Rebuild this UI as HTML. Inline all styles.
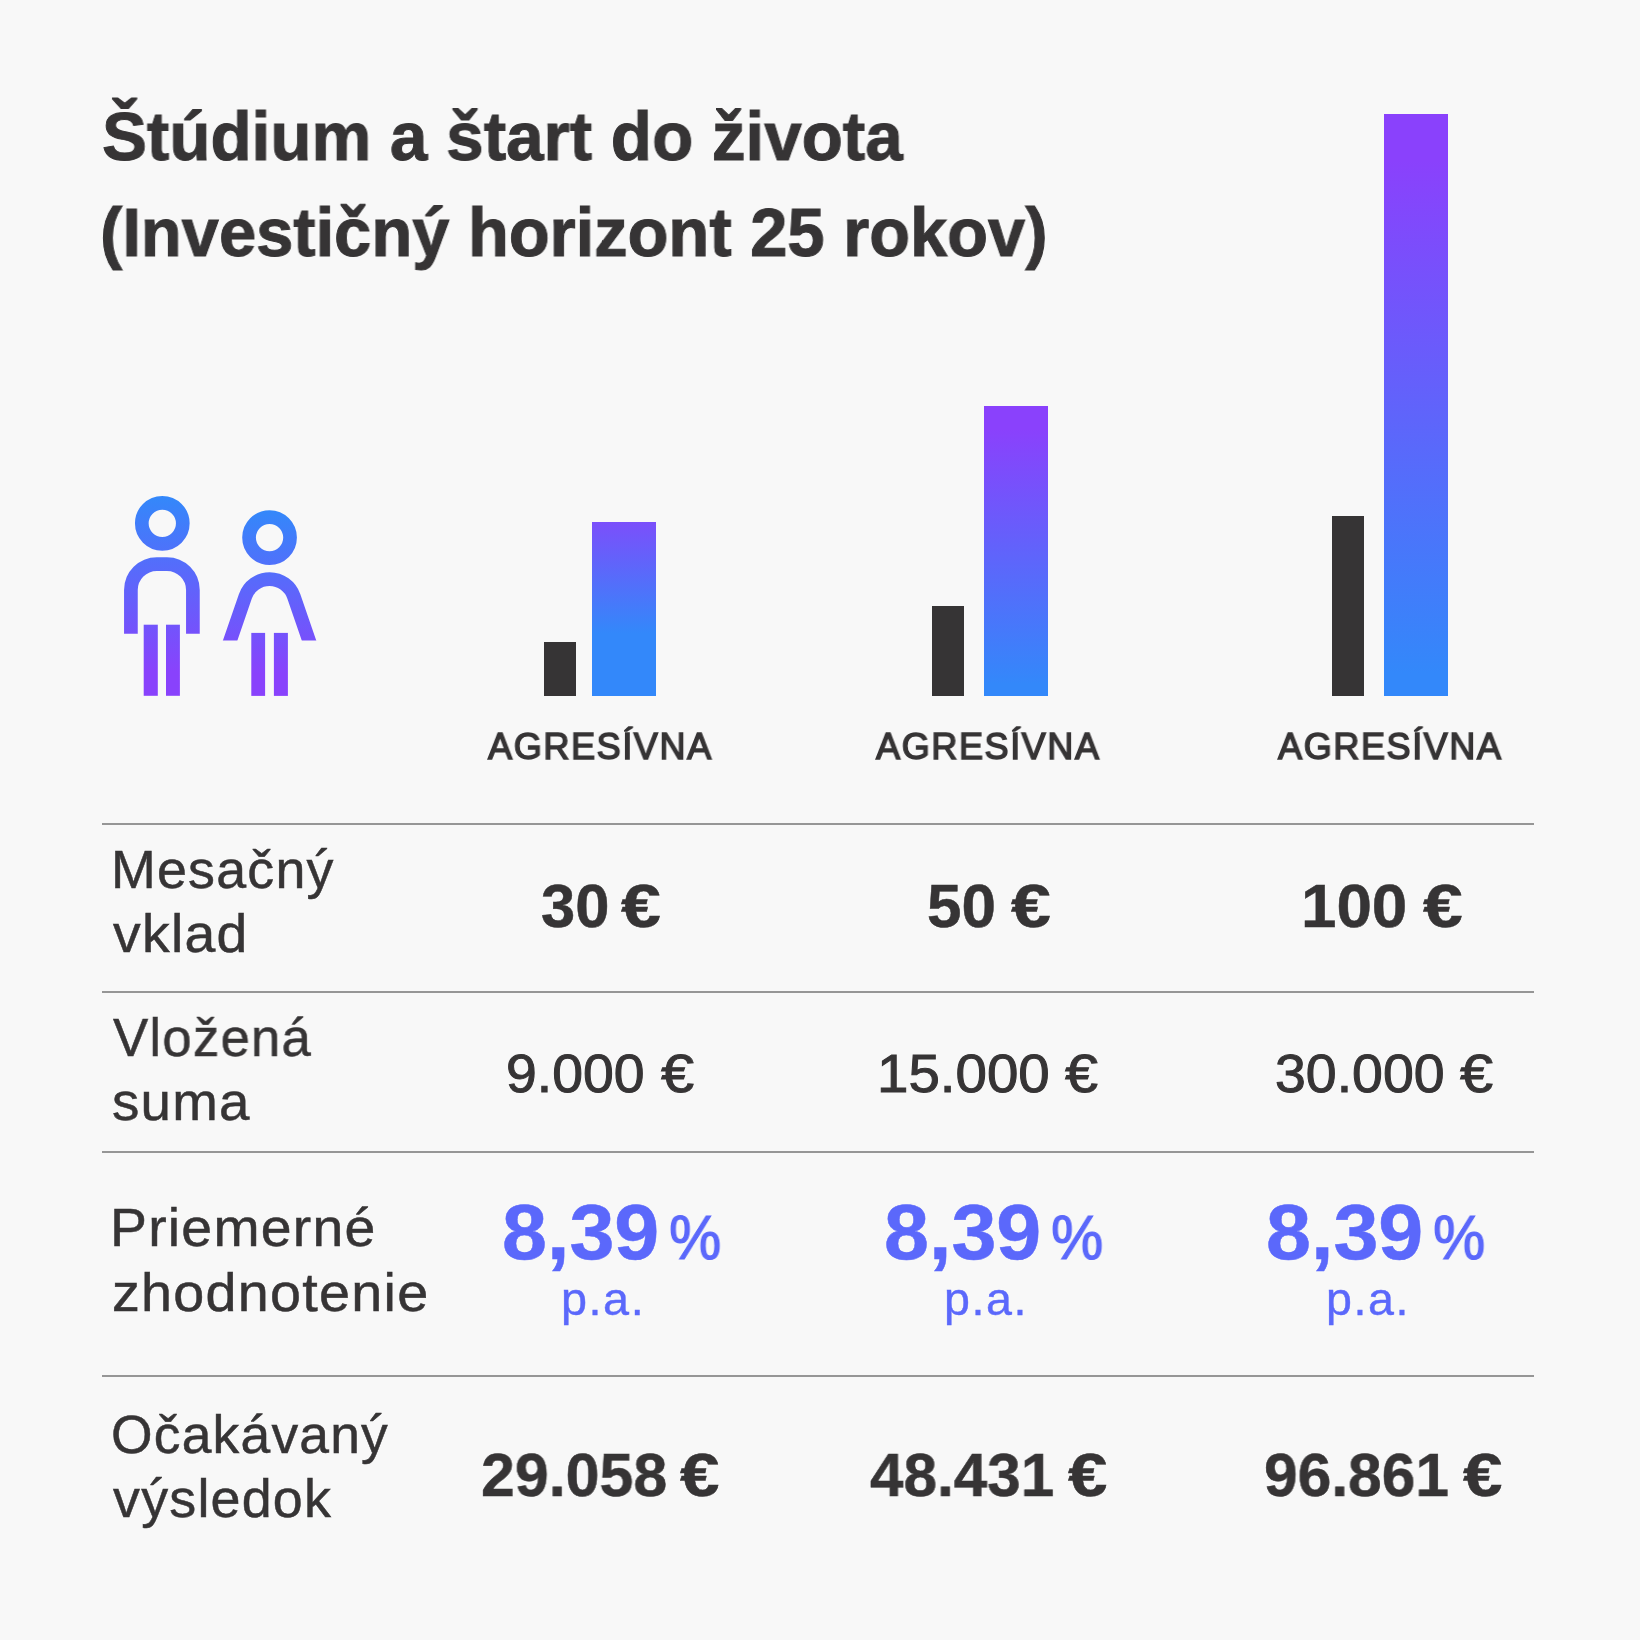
<!DOCTYPE html>
<html lang="sk">
<head>
<meta charset="utf-8">
<title>Štúdium a štart do života</title>
<style>
html,body{margin:0;padding:0}
body{width:1640px;height:1640px;background:#f8f8f8;position:relative;overflow:hidden;font-family:"Liberation Sans",sans-serif;color:#363435;font-kerning:none}
.t{position:absolute;display:block;will-change:transform;white-space:nowrap;line-height:1;margin:0;font-weight:400;transform-origin:0 0;-webkit-text-stroke-color:currentColor}
.b{font-weight:700}
.blue{color:#5b68fb}
.hr{position:absolute;left:102px;width:1432px;height:2px;background:#969696}
.bar{position:absolute}
.dk{background:#363435}
svg{position:absolute;left:0;top:0}
#t1{left:101.56px;top:102.00px;font-size:68px;transform:scaleX(0.9903);-webkit-text-stroke-width:1px}
#t2{left:100.16px;top:198.00px;font-size:68px;transform:scaleX(0.9833);-webkit-text-stroke-width:1px}
#lab0{left:487.76px;top:728.00px;font-size:37.2px;transform:scaleX(0.9714);letter-spacing:1.6px;-webkit-text-stroke-width:1.5px}
#lab1{left:876.06px;top:728.00px;font-size:37.2px;transform:scaleX(0.9705);letter-spacing:1.6px;-webkit-text-stroke-width:1.5px}
#lab2{left:1277.66px;top:728.00px;font-size:37.2px;transform:scaleX(0.9705);letter-spacing:1.6px;-webkit-text-stroke-width:1.5px}
#r1a{left:110.64px;top:843.00px;font-size:53px;transform:scaleX(1.0143);letter-spacing:1.2px;-webkit-text-stroke-width:0.5px}
#r1b{left:112.57px;top:907.00px;font-size:53px;transform:scaleX(1.0452);letter-spacing:1.2px;-webkit-text-stroke-width:0.5px}
#r2a{left:112.72px;top:1011.00px;font-size:53px;transform:scaleX(0.9955);letter-spacing:1.2px;-webkit-text-stroke-width:0.5px}
#r2b{left:112.44px;top:1075.00px;font-size:53px;transform:scaleX(1.0323);letter-spacing:1.2px;-webkit-text-stroke-width:0.5px}
#r3a{left:110.22px;top:1201.00px;font-size:53px;transform:scaleX(1.0437);letter-spacing:1.2px;-webkit-text-stroke-width:0.5px}
#r3b{left:111.50px;top:1266.00px;font-size:53px;transform:scaleX(1.0512);letter-spacing:1.2px;-webkit-text-stroke-width:0.5px}
#r4a{left:111.22px;top:1408.00px;font-size:53px;transform:scaleX(1.0076);letter-spacing:1.2px;-webkit-text-stroke-width:0.5px}
#r4b{left:112.97px;top:1472.00px;font-size:53px;transform:scaleX(1.0154);letter-spacing:1.2px;-webkit-text-stroke-width:0.5px}
#v1an{left:541.04px;top:875.00px;font-size:61.5px;transform:scaleX(1.0004);-webkit-text-stroke-width:0.5px}
#v1ae{left:621.14px;top:875.00px;font-size:61.5px;transform:scaleX(1.1644);-webkit-text-stroke-width:0.5px}
#v1bn{left:926.65px;top:875.00px;font-size:61.5px;transform:scaleX(1.0079);-webkit-text-stroke-width:0.5px}
#v1be{left:1011.14px;top:875.00px;font-size:61.5px;transform:scaleX(1.1644);-webkit-text-stroke-width:0.5px}
#v1cn{left:1301.25px;top:875.00px;font-size:61.5px;transform:scaleX(1.0360);-webkit-text-stroke-width:0.5px}
#v1ce{left:1423.24px;top:875.00px;font-size:61.5px;transform:scaleX(1.1614);-webkit-text-stroke-width:0.5px}
#v2an{left:506.03px;top:1047.00px;font-size:53px;transform:scaleX(1.0444);-webkit-text-stroke-width:1px}
#v2ae{left:660.70px;top:1047.00px;font-size:53px;transform:scaleX(1.1224);-webkit-text-stroke-width:1px}
#v2bn{left:876.83px;top:1047.00px;font-size:53px;transform:scaleX(1.0656);-webkit-text-stroke-width:1px}
#v2be{left:1064.60px;top:1047.00px;font-size:53px;transform:scaleX(1.1190);-webkit-text-stroke-width:1px}
#v2cn{left:1274.71px;top:1047.00px;font-size:53px;transform:scaleX(1.0458);-webkit-text-stroke-width:1px}
#v2ce{left:1459.50px;top:1047.00px;font-size:53px;transform:scaleX(1.1224);-webkit-text-stroke-width:1px}
#p0a{left:501.60px;top:1194.00px;font-size:77.5px;transform:scaleX(1.0425);-webkit-text-stroke-width:0.5px}
#p0b{left:669.46px;top:1206.00px;font-size:63px;transform:scaleX(0.9331);-webkit-text-stroke-width:1.2px}
#p0c{left:561.39px;top:1277.00px;font-size:45.5px;transform:scaleX(1.0284);letter-spacing:1.5px;-webkit-text-stroke-width:0.4px}
#p1a{left:883.60px;top:1194.00px;font-size:77.5px;transform:scaleX(1.0425);-webkit-text-stroke-width:0.5px}
#p1b{left:1051.46px;top:1206.00px;font-size:63px;transform:scaleX(0.9331);-webkit-text-stroke-width:1.2px}
#p1c{left:944.00px;top:1277.00px;font-size:45.5px;transform:scaleX(1.0243);letter-spacing:1.5px;-webkit-text-stroke-width:0.4px}
#p2a{left:1265.60px;top:1194.00px;font-size:77.5px;transform:scaleX(1.0425);-webkit-text-stroke-width:0.5px}
#p2b{left:1433.46px;top:1206.00px;font-size:63px;transform:scaleX(0.9331);-webkit-text-stroke-width:1.2px}
#p2c{left:1326.00px;top:1277.00px;font-size:45.5px;transform:scaleX(1.0243);letter-spacing:1.5px;-webkit-text-stroke-width:0.4px}
#v4an{left:480.54px;top:1444.00px;font-size:61.5px;transform:scaleX(0.9893);-webkit-text-stroke-width:0.5px}
#v4ae{left:680.44px;top:1444.00px;font-size:61.5px;transform:scaleX(1.1524);-webkit-text-stroke-width:0.5px}
#v4bn{left:869.63px;top:1444.00px;font-size:61.5px;transform:scaleX(0.9787);-webkit-text-stroke-width:0.5px}
#v4be{left:1068.44px;top:1444.00px;font-size:61.5px;transform:scaleX(1.1494);-webkit-text-stroke-width:0.5px}
#v4cn{left:1263.65px;top:1444.00px;font-size:61.5px;transform:scaleX(0.9829);-webkit-text-stroke-width:0.5px}
#v4ce{left:1463.14px;top:1444.00px;font-size:61.5px;transform:scaleX(1.1524);-webkit-text-stroke-width:0.5px}
</style>
</head>
<body>
<header><h1 id="t1" class="t b">Štúdium a štart do života</h1>
<h1 id="t2" class="t b">(Investičný horizont 25 rokov)</h1></header>
<svg width="1640" height="1640" viewBox="0 0 1640 1640" aria-hidden="true">
<defs>
<linearGradient id="gm" gradientUnits="userSpaceOnUse" x1="0" y1="496" x2="0" y2="696"><stop offset="0" stop-color="#3388fa"/><stop offset="0.88" stop-color="#8942fc"/><stop offset="1" stop-color="#8942fc"/></linearGradient>
<linearGradient id="gw" gradientUnits="userSpaceOnUse" x1="0" y1="510" x2="0" y2="696"><stop offset="0" stop-color="#3388fa"/><stop offset="0.88" stop-color="#8942fc"/><stop offset="1" stop-color="#8942fc"/></linearGradient>
<clipPath id="cw"><rect x="200" y="560" width="140" height="80.5"/></clipPath>
</defs>
<g fill="none" stroke="url(#gm)" stroke-width="13.7">
<circle cx="162.3" cy="523.3" r="20.5"/>
<path d="M130.9 633.7 V590.1 A26 26 0 0 1 156.9 564.1 H166.9 A26 26 0 0 1 192.9 590.1 V633.7"/>
</g>
<g fill="url(#gm)"><rect x="143.7" y="624.7" width="14.1" height="71.1"/><rect x="166" y="624.7" width="13.9" height="71.1"/></g>
<g fill="none" stroke="url(#gw)" stroke-width="13.7">
<circle cx="269.55" cy="537.6" r="20.5"/>
<path clip-path="url(#cw)" d="M225.72 653.34 L245.35 596.39 A25.65 25.65 0 0 1 293.86 596.42 L313.41 653.34"/>
</g>
<g fill="url(#gw)"><rect x="251.3" y="632.9" width="13.8" height="63"/><rect x="273.9" y="632.9" width="14" height="63"/></g>
</svg>
<section class="chart">
<div class="bar dk" style="left:544px;top:642px;width:32px;height:54px"></div>
<div class="bar" style="left:592px;top:522px;width:64px;height:174px;background:linear-gradient(180deg,#7b4ffb 0%,#3388fa 64%,#3388fa 100%)"></div>
<div class="bar dk" style="left:932px;top:606px;width:32px;height:90px"></div>
<div class="bar" style="left:984px;top:406px;width:64px;height:290px;background:linear-gradient(180deg,#8a41fc 0%,#8a41fc 8%,#3388fa 96%,#3388fa 100%)"></div>
<div class="bar dk" style="left:1332px;top:516px;width:32px;height:180px"></div>
<div class="bar" style="left:1384px;top:114px;width:64px;height:582px;background:linear-gradient(180deg,#8a41fc 0%,#8a41fc 8%,#3388fa 96%,#3388fa 100%)"></div>
<div id="lab0" class="t">AGRESÍVNA</div>
<div id="lab1" class="t">AGRESÍVNA</div>
<div id="lab2" class="t">AGRESÍVNA</div>
</section>
<div class="hr" style="top:823px"></div>
<div class="row"><span id="r1a" class="t">Mesačný</span> <span id="r1b" class="t">vklad</span>
<span id="v1an" class="t b">30</span> <span id="v1ae" class="t b">€</span>
<span id="v1bn" class="t b">50</span> <span id="v1be" class="t b">€</span>
<span id="v1cn" class="t b">100</span> <span id="v1ce" class="t b">€</span>
</div>
<div class="hr" style="top:991px"></div>
<div class="row"><span id="r2a" class="t">Vložená</span> <span id="r2b" class="t">suma</span>
<span id="v2an" class="t">9.000</span> <span id="v2ae" class="t">€</span>
<span id="v2bn" class="t">15.000</span> <span id="v2be" class="t">€</span>
<span id="v2cn" class="t">30.000</span> <span id="v2ce" class="t">€</span>
</div>
<div class="hr" style="top:1151px"></div>
<div class="row"><span id="r3a" class="t">Priemerné</span> <span id="r3b" class="t">zhodnotenie</span>
<span id="p0a" class="t b blue">8,39</span> <span id="p0b" class="t blue">%</span> <span id="p0c" class="t blue">p.a.</span>
<span id="p1a" class="t b blue">8,39</span> <span id="p1b" class="t blue">%</span> <span id="p1c" class="t blue">p.a.</span>
<span id="p2a" class="t b blue">8,39</span> <span id="p2b" class="t blue">%</span> <span id="p2c" class="t blue">p.a.</span>
</div>
<div class="hr" style="top:1375px"></div>
<div class="row"><span id="r4a" class="t">Očakávaný</span> <span id="r4b" class="t">výsledok</span>
<span id="v4an" class="t b">29.058</span> <span id="v4ae" class="t b">€</span>
<span id="v4bn" class="t b">48.431</span> <span id="v4be" class="t b">€</span>
<span id="v4cn" class="t b">96.861</span> <span id="v4ce" class="t b">€</span>
</div>
</body>
</html>
